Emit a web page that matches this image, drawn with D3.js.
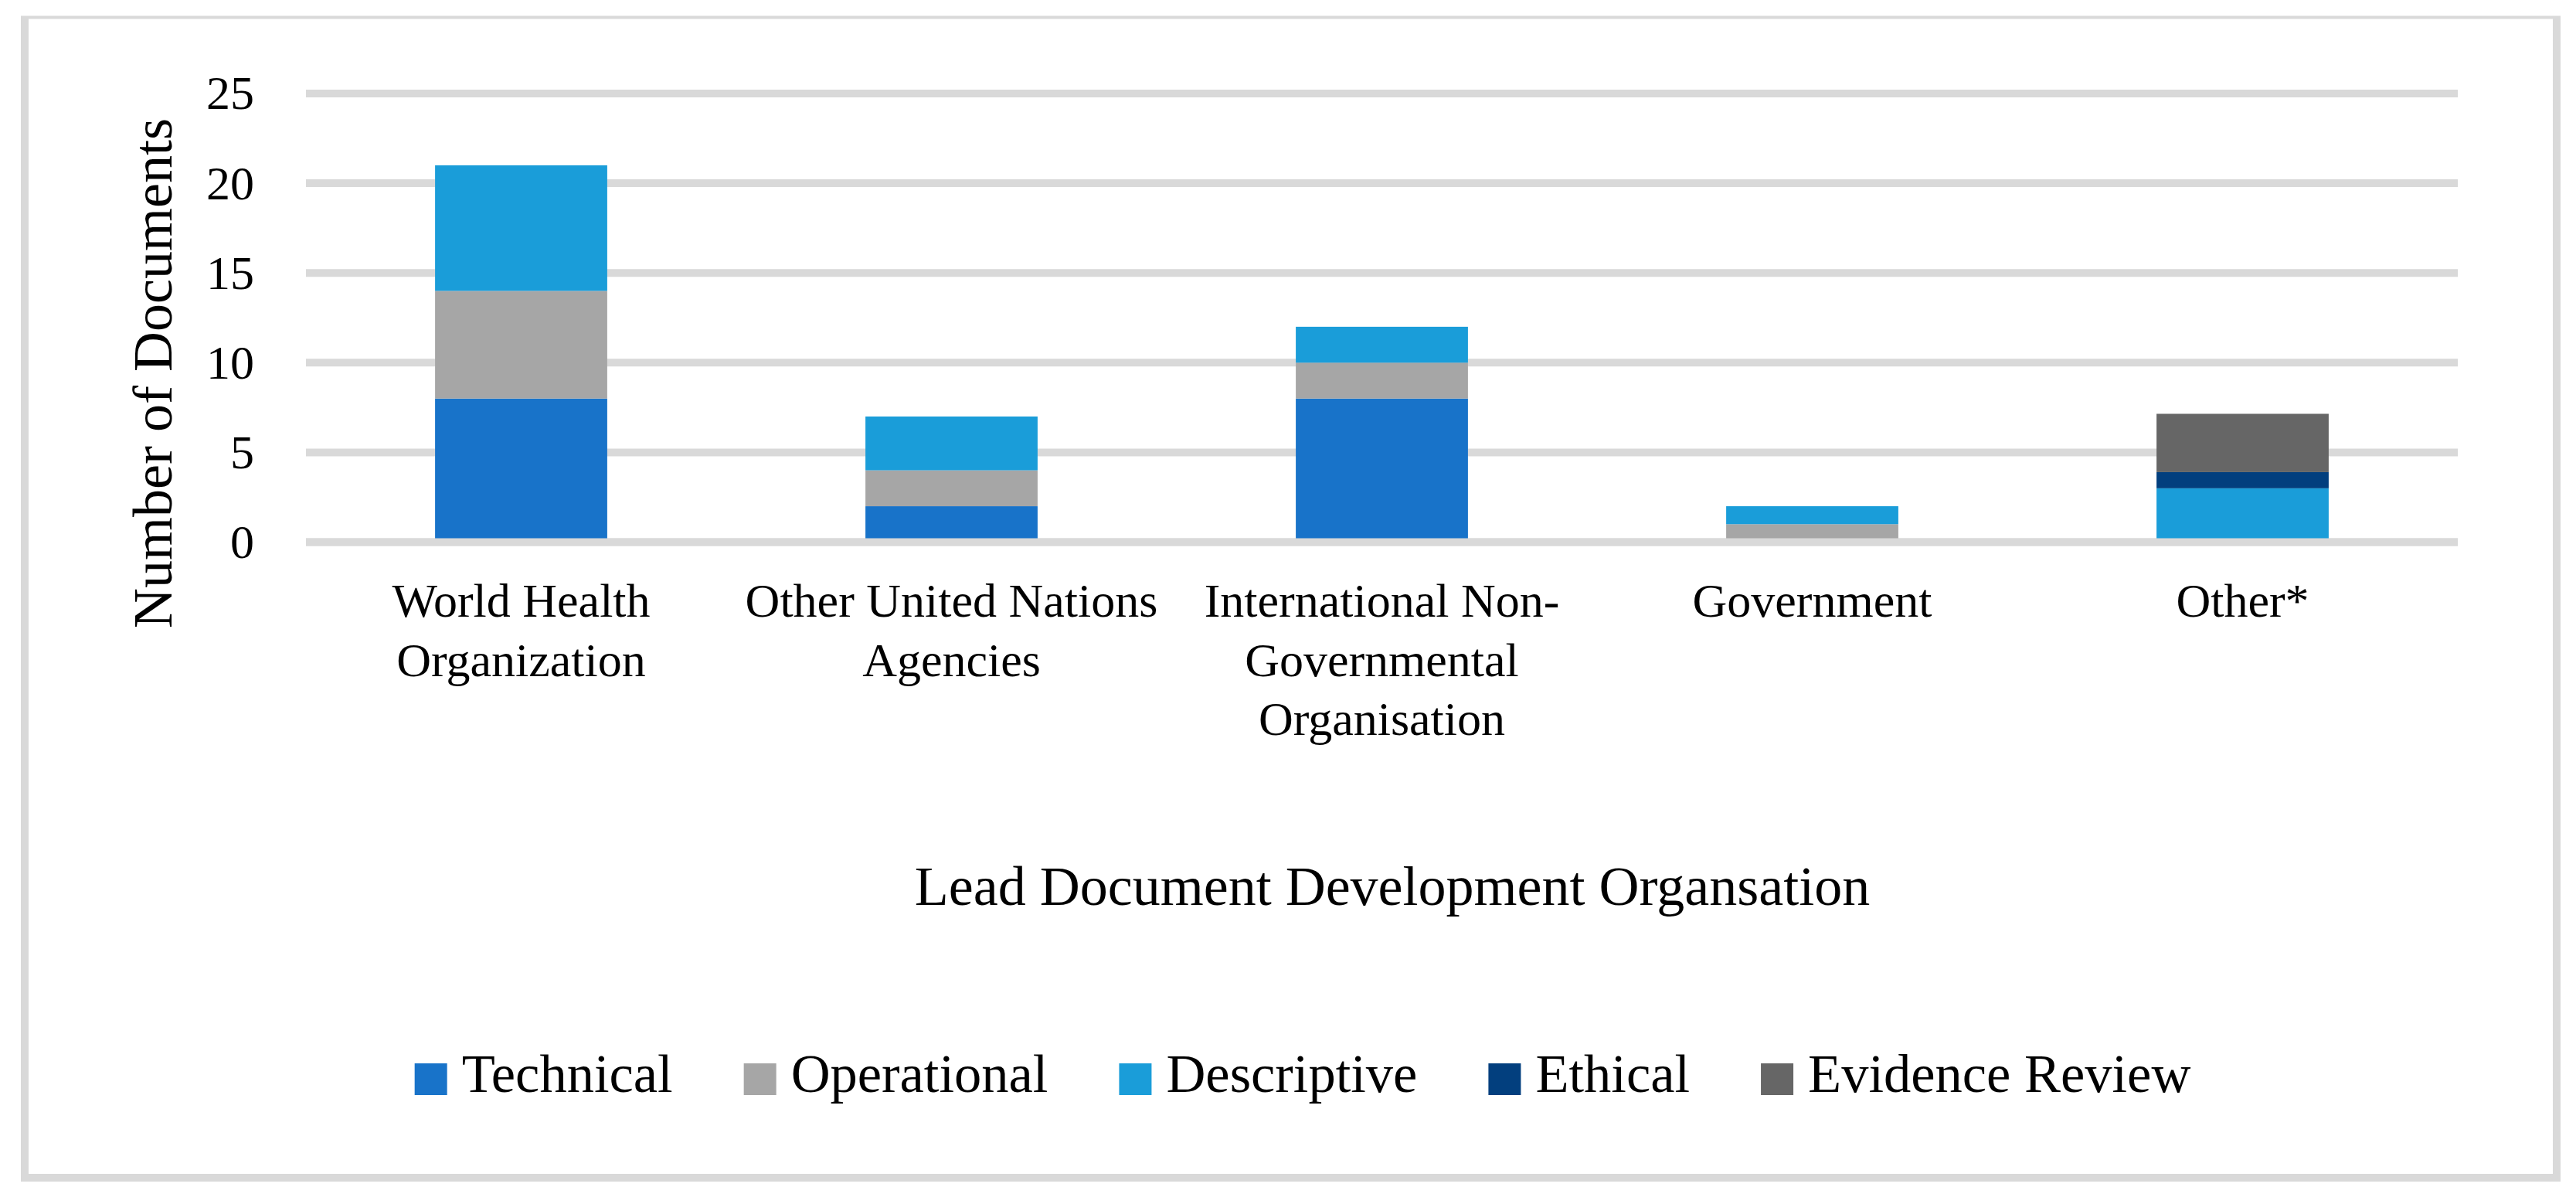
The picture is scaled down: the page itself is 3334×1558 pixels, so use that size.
<!DOCTYPE html>
<html>
<head>
<meta charset="utf-8">
<script src="https://cdn.jsdelivr.net/npm/d3@7"></script>
<style>
  html, body { margin: 0; padding: 0; background: #fff; }
  svg text { font-family: "Liberation Serif", "Times New Roman", serif; fill: #000; }
</style>
</head>
<body>
<script>
// Chart data
const categories = ["World Health Organization", "Other United Nations Agencies",
  "International Non-Governmental Organisation", "Government", "Other*"];
const categoryLines = [
  ["World Health", "Organization"],
  ["Other United Nations", "Agencies"],
  ["International Non-", "Governmental", "Organisation"],
  ["Government"],
  ["Other*"]
];
const seriesNames = ["Technical", "Operational", "Descriptive", "Ethical", "Evidence Review"];
const technical   = [8, 2, 8, 0, 0];
const operational = [6, 2, 2, 1, 0];
const descriptive = [7, 3, 2, 1, 3];
const ethical     = [0, 0, 0, 0, 0.9];
const evidence    = [0, 0, 0, 0, 3.25];
const yTicks = [0, 5, 10, 15, 20, 25];
const colors = ["#1873c9", "#a6a6a6", "#1a9dd9", "#023f7e", "#666666"];

const W = 3334, H = 1558;
const svg = d3.select("body").append("svg")
  .attr("width", W).attr("height", H)
  .attr("viewBox", "0 0 " + W + " " + H);

// Outer frame (thin top, thicker sides and bottom, as in the source)
const frame = svg.append("g").attr("stroke", "#d9d9d9").attr("fill", "none");
frame.append("line").attr("x1", 27).attr("x2", 3314).attr("y1", 22.5).attr("y2", 22.5).attr("stroke-width", 4);
frame.append("line").attr("x1", 32).attr("x2", 32).attr("y1", 21).attr("y2", 1529).attr("stroke-width", 10);
frame.append("line").attr("x1", 3309).attr("x2", 3309).attr("y1", 21).attr("y2", 1529).attr("stroke-width", 10);
frame.append("line").attr("x1", 27).attr("x2", 3314).attr("y1", 1524).attr("y2", 1524).attr("stroke-width", 10);

// Scales
const x = d3.scaleBand().domain(categories).range([396, 3181])
  .paddingInner(0.6).paddingOuter(0.3);
const y = d3.scaleLinear().domain([0, 25]).range([701.5, 121]);

// Gridlines
const grid = svg.append("g");
grid.selectAll("line").data(yTicks).enter().append("line")
  .attr("x1", 396).attr("x2", 3181)
  .attr("y1", d => y(d)).attr("y2", d => y(d))
  .attr("stroke", "#d9d9d9").attr("stroke-width", 10);

// Y tick labels
svg.append("g").selectAll("text").data(yTicks).enter().append("text")
  .attr("x", 329).attr("y", d => y(d)).attr("dy", "0.33em")
  .attr("text-anchor", "end").attr("font-size", 62)
  .text(d => d);

// Stacked bars
const table = categories.map((c, i) => ({
  cat: c,
  "Technical": technical[i], "Operational": operational[i], "Descriptive": descriptive[i],
  "Ethical": ethical[i], "Evidence Review": evidence[i]
}));
const stacked = d3.stack().keys(seriesNames)(table);
const color = d3.scaleOrdinal().domain(seriesNames).range(colors);

svg.append("g").selectAll("g").data(stacked).enter().append("g")
  .attr("fill", d => color(d.key))
  .selectAll("rect").data(d => d.filter(s => s[1] > s[0])).enter().append("rect")
    .attr("x", d => x(d.data.cat))
    .attr("width", x.bandwidth())
    .attr("y", d => y(d[1]))
    .attr("height", d => y(d[0]) - y(d[1]));

// Zero line drawn over the bar bottoms
svg.append("line").attr("x1", 396).attr("x2", 3181)
  .attr("y1", y(0)).attr("y2", y(0))
  .attr("stroke", "#d9d9d9").attr("stroke-width", 10);

// Category labels
const catG = svg.append("g");
categories.forEach((c, i) => {
  const t = catG.append("text")
    .attr("text-anchor", "middle").attr("font-size", 62)
    .attr("x", x(c) + x.bandwidth() / 2).attr("y", y(0) + 96.5);
  categoryLines[i].forEach((line, j) => {
    t.append("tspan").attr("x", x(c) + x.bandwidth() / 2)
      .attr("dy", j === 0 ? 0 : 76.5).text(line);
  });
});

// Axis titles
svg.append("text")
  .attr("transform", "translate(222,483) rotate(-90)")
  .attr("text-anchor", "middle").attr("font-size", 72)
  .text("Number of Documents");

svg.append("text")
  .attr("x", 1802).attr("y", 1171)
  .attr("text-anchor", "middle").attr("font-size", 72)
  .text("Lead Document Development Organsation");

// Legend, centred under the chart area
const legend = svg.append("g");
const items = seriesNames.map(name => {
  const g = legend.append("g");
  g.append("rect").attr("width", 42).attr("height", 41).attr("y", -37).attr("fill", color(name));
  const t = g.append("text").attr("x", 61).attr("font-size", 70.5).text(name);
  return { g: g, w: 61 + t.node().getComputedTextLength() };
});
const gap = 92;
const total = d3.sum(items, d => d.w) + gap * (items.length - 1);
let lx = 1686 - total / 2;
items.forEach(d => {
  d.g.attr("transform", "translate(" + lx + ",1413)");
  lx += d.w + gap;
});
</script>
</body>
</html>
